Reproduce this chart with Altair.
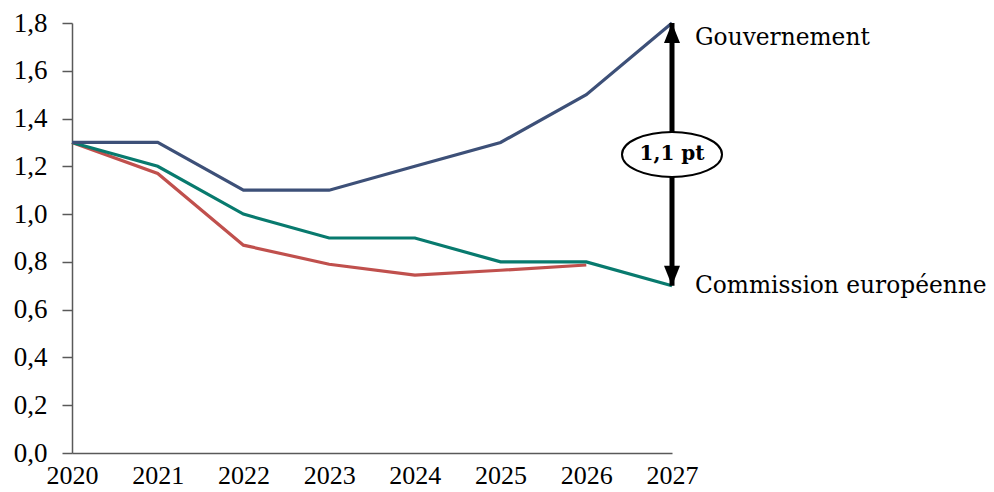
import altair as alt
import pandas as pd

years = [2020, 2021, 2022, 2023, 2024, 2025, 2026, 2027]
gouvernement = [1.3, 1.3, 1.1, 1.1, 1.2, 1.3, 1.5, 1.8]
commission = [1.3, 1.2, 1.0, 0.9, 0.9, 0.8, 0.8, 0.7]
red_years = [2020, 2021, 2022, 2023, 2024, 2025, 2026]
red_series = [1.3, 1.17, 0.87, 0.79, 0.745, 0.765, 0.787]

series_names = ["Autre", "Commission européenne", "Gouvernement"]
series_colors = ["#C0504D", "#087A6E", "#3D5078"]

rows = []
for y, v in zip(red_years, red_series):
    rows.append({"annee": y, "valeur": v, "serie": "Autre"})
for y, v in zip(years, commission):
    rows.append({"annee": y, "valeur": v, "serie": "Commission européenne"})
for y, v in zip(years, gouvernement):
    rows.append({"annee": y, "valeur": v, "serie": "Gouvernement"})
df = pd.DataFrame(rows)

arrow_x = 2027
arrow_top = 1.8
arrow_bottom = 0.7
ellipse_y = 1.25
gap_label = "1,1 pt"

x_scale = alt.Scale(domain=[2020, 2027], nice=False)
y_scale = alt.Scale(domain=[0, 1.8], nice=False)

AXIS_COLOR = "#595959"
TICK_FONT = "Liberation Serif"
ANN_FONT = "DejaVu Serif"

x_enc = alt.X("annee:Q", scale=x_scale,
              axis=alt.Axis(values=years, format="d", title=None, grid=False,
                            ticks=False, labelFont=TICK_FONT, labelFontSize=26,
                            labelColor="#000000", labelPadding=9,
                            domainColor=AXIS_COLOR, domainWidth=1.5,
                            labelFlush=False))
y_enc = alt.Y("valeur:Q", scale=y_scale,
              axis=alt.Axis(values=[0, 0.2, 0.4, 0.6, 0.8, 1.0, 1.2, 1.4, 1.6, 1.8],
                            labelExpr="replace(format(datum.value, '.1f'), '.', ',')",
                            title=None, grid=False, tickSize=10, tickColor=AXIS_COLOR,
                            tickWidth=1.5, labelFont=TICK_FONT, labelFontSize=27,
                            labelColor="#000000", labelPadding=15,
                            domainColor=AXIS_COLOR, domainWidth=1.5))

lines = alt.Chart(df).mark_line(strokeWidth=3.2, clip=False).encode(
    x=x_enc,
    y=y_enc,
    color=alt.Color("serie:N", scale=alt.Scale(domain=series_names, range=series_colors), legend=None),
    order=alt.Order("annee:Q"),
    detail="serie:N",
)

arrow_df = pd.DataFrame({"x": [arrow_x], "y": [arrow_top], "y2": [arrow_bottom]})
shaft = alt.Chart(arrow_df).mark_rule(strokeWidth=5, color="#000000").encode(
    x=alt.X("x:Q", scale=x_scale), y=alt.Y("y:Q", scale=y_scale), y2="y2:Q")

head_up = alt.Chart(pd.DataFrame({"x": [arrow_x], "y": [arrow_top]})).mark_point(
    shape="M 0 -1 L 0.8 1 L -0.8 1 Z", size=400, filled=True, color="#000000",
    opacity=1, yOffset=10).encode(x=alt.X("x:Q", scale=x_scale), y=alt.Y("y:Q", scale=y_scale))
head_down = alt.Chart(pd.DataFrame({"x": [arrow_x], "y": [arrow_bottom]})).mark_point(
    shape="M 0 1 L 0.8 -1 L -0.8 -1 Z", size=400, filled=True, color="#000000",
    opacity=1, yOffset=-10).encode(x=alt.X("x:Q", scale=x_scale), y=alt.Y("y:Q", scale=y_scale))

ell_df = pd.DataFrame({"x": [arrow_x], "y": [ellipse_y], "t": [gap_label]})
ellipse = alt.Chart(ell_df).mark_point(
    shape="M -1 0 A 1 0.45 0 1 1 1 0 A 1 0.45 0 1 1 -1 0 Z", size=10000, filled=True,
    fill="#FFFFFF", stroke="#000000", strokeWidth=2, opacity=1, fillOpacity=1).encode(
    x=alt.X("x:Q", scale=x_scale), y=alt.Y("y:Q", scale=y_scale))
ell_text = alt.Chart(ell_df).mark_text(
    font=ANN_FONT, fontSize=20, fontWeight="bold", color="#000000",
    align="center", baseline="middle").encode(
    x=alt.X("x:Q", scale=x_scale), y=alt.Y("y:Q", scale=y_scale), text="t:N")

lab_gouv = alt.Chart(pd.DataFrame({"x": [arrow_x], "y": [arrow_top], "t": ["Gouvernement"]})).mark_text(
    font=ANN_FONT, fontSize=23.3, color="#000000", align="left", baseline="middle",
    dx=23, dy=15).encode(x=alt.X("x:Q", scale=x_scale), y=alt.Y("y:Q", scale=y_scale), text="t:N")
lab_com = alt.Chart(pd.DataFrame({"x": [arrow_x], "y": [arrow_bottom], "t": ["Commission européenne"]})).mark_text(
    font=ANN_FONT, fontSize=23.3, color="#000000", align="left", baseline="middle",
    dx=23, dy=0).encode(x=alt.X("x:Q", scale=x_scale), y=alt.Y("y:Q", scale=y_scale), text="t:N")

chart = alt.layer(lines, shaft, head_up, head_down, ellipse, ell_text, lab_gouv, lab_com).properties(
    width=600, height=430,
    autosize=alt.AutoSizeParams(type="none"),
    padding={"left": 64, "top": 15, "right": 314, "bottom": 39},
    background="#FFFFFF",
).configure_view(stroke=None)

chart.save("out.html", embed_options={"renderer": "svg", "actions": False})
